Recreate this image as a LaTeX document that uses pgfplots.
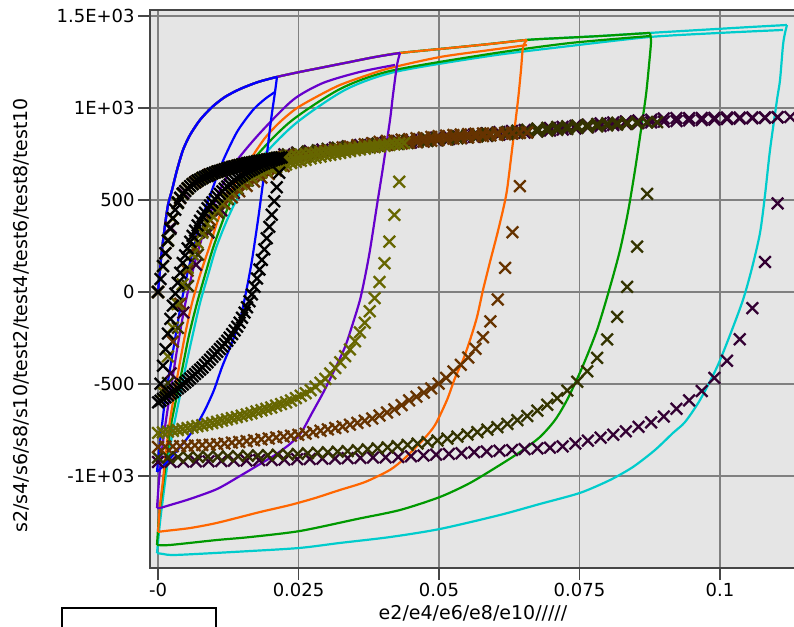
\documentclass[border=0pt]{standalone}
\usepackage{fontspec}
\setmainfont{DejaVu Sans}
\usepackage{pgfplots}
\pgfplotsset{compat=1.18}

\definecolor{cblue}{RGB}{0,0,255}
\definecolor{cpurple}{RGB}{102,0,204}
\definecolor{corange}{RGB}{255,102,0}
\definecolor{cgreen}{RGB}{0,153,0}
\definecolor{ccyan}{RGB}{0,204,204}
\definecolor{solive}{RGB}{102,102,0}
\definecolor{sbrown}{RGB}{102,51,0}
\definecolor{sdolive}{RGB}{51,51,0}
\definecolor{sdpurple}{RGB}{51,0,51}
\definecolor{bggray}{RGB}{229,229,229}
\definecolor{gridgray}{RGB}{128,128,128}
\definecolor{framegray}{RGB}{70,70,70}

\pgfplotsset{
  tline/.style={line width=1.1pt, no markers, smooth, tension=0.45},
  scross/.style={only marks, mark=x, mark size=4.1pt, mark options={line width=1.15pt}},
}

\begin{document}
\begin{tikzpicture}
\begin{axis}[
    width=322.5pt, height=279pt, scale only axis,
    xmin=-0.001423, xmax=0.113345,
    ymin=-1500, ymax=1532.6,
    axis background/.style={fill=bggray},
    axis line style={framegray, line width=0.8pt},
    grid=major,
    major grid style={gridgray, line width=0.75pt},
    tick align=outside, tick pos=left,
    major tick length=6pt,
    tick style={framegray, line width=0.8pt},
    scaled ticks=false,
    xtick={0,0.025,0.05,0.075,0.1},
    xticklabels={-0,0.025,0.05,0.075,0.1},
    ytick={-1000,-500,0,500,1000,1500},
    yticklabels={-1E+03,-500,0,500,1E+03,1.5E+03},
    tick label style={font=\fontsize{9}{11}\selectfont, inner sep=1.5pt},
    label style={font=\fontsize{9.5}{11}\selectfont},
    xlabel={e2/e4/e6/e8/e10/////},
    ylabel={s2/s4/s6/s8/s10/test2/test4/test6/test8/test10},
    xlabel style={at={(axis description cs:0.5008,-0.0806)}, anchor=center},
    ylabel style={at={(axis description cs:-0.2,0.453)}, anchor=center},
]

% ---- s10 (crosses)
\addplot[scross, color=sdpurple] coordinates {
(0,0) (0.00225,350) (0.0045,537) (0.00675,599) (0.009,635) (0.01125,659) (0.0135,681) (0.01575,698) (0.018,712) (0.02025,723) (0.0225,734) (0.02475,744) (0.027,752) (0.02925,760) (0.0315,770) (0.03375,778) (0.036,785) (0.03825,792) (0.0405,799) (0.04275,806) (0.045,812) (0.04725,818) (0.0495,825) (0.05175,831) (0.054,837) (0.05625,843) (0.0585,849) (0.06075,855) (0.063,861) (0.06525,866) (0.0675,872) (0.06975,877) (0.072,883) (0.07425,889) (0.0765,895) (0.07875,902) (0.081,907) (0.08325,913) (0.0855,918) (0.08775,922) (0.09,926) (0.09225,929) (0.0945,932) (0.09675,935) (0.099,937) (0.10125,940) (0.1035,942) (0.10575,944) (0.108,946) (0.11025,949) (0.1125,951)
(0.11025,481) (0.108,163) (0.10575,-88) (0.1035,-257) (0.10125,-374) (0.099,-467) (0.09675,-538) (0.0945,-589) (0.09225,-635) (0.09,-677) (0.08775,-709) (0.0855,-733) (0.08325,-757) (0.081,-776) (0.07875,-792) (0.0765,-808) (0.07425,-824) (0.072,-839) (0.06975,-846) (0.0675,-850) (0.06525,-854) (0.063,-859) (0.06075,-863) (0.0585,-867) (0.05625,-871) (0.054,-876) (0.05175,-880) (0.0495,-884) (0.04725,-889) (0.045,-893) (0.04275,-897) (0.0405,-899) (0.03825,-900) (0.036,-902) (0.03375,-903) (0.0315,-905) (0.02925,-906) (0.027,-908) (0.02475,-909) (0.0225,-911) (0.02025,-913) (0.018,-914) (0.01575,-916) (0.0135,-917) (0.01125,-919) (0.009,-920) (0.00675,-921) (0.0045,-922) (0.00225,-923) (0,-924)
(0.00225,-442) (0.0045,-112) (0.00675,148) (0.009,323) (0.01125,444) (0.0135,539) (0.01575,610) (0.018,660) (0.02025,705) (0.0225,748) (0.02475,758) (0.027,766) (0.02925,774) (0.0315,784) (0.03375,792) (0.036,799) (0.03825,806) (0.0405,813) (0.04275,820) (0.045,826) (0.04725,832) (0.0495,839) (0.05175,845) (0.054,851) (0.05625,857) (0.0585,863) (0.06075,869) (0.063,875) (0.06525,880) (0.0675,886) (0.06975,891) (0.072,897) (0.07425,903) (0.0765,909) (0.07875,916) (0.081,921) (0.08325,927) (0.0855,932) (0.08775,936) (0.09,943) (0.09225,945) (0.0945,945) (0.09675,946) (0.099,946) (0.10125,948) (0.1035,948) (0.10575,949) (0.108,949) (0.11025,950)
};

% ---- s8 (crosses)
\addplot[scross, color=sdolive] coordinates {
(0,0) (0.00178,282) (0.00355,488) (0.00533,564) (0.0071,606) (0.00888,633) (0.01066,655) (0.01243,672) (0.01421,686) (0.01598,700) (0.01776,711) (0.01954,720) (0.02131,728) (0.02309,736) (0.02486,744) (0.02664,751) (0.02842,758) (0.03019,766) (0.03197,772) (0.03374,778) (0.03552,784) (0.0373,789) (0.03907,795) (0.04085,800) (0.04262,805) (0.0444,810) (0.04618,815) (0.04795,820) (0.04973,825) (0.0515,829) (0.05328,835) (0.05506,840) (0.05683,845) (0.05861,849) (0.06038,854) (0.06216,858) (0.06394,863) (0.06571,867) (0.06749,872) (0.06926,876) (0.07104,881) (0.07282,886) (0.07459,891) (0.07637,895) (0.07814,900) (0.07992,905) (0.0817,909) (0.08347,913) (0.08525,917) (0.08702,921) (0.0888,923)
(0.08702,533) (0.08525,246) (0.08347,28) (0.0817,-135) (0.07992,-258) (0.07814,-358) (0.07637,-431) (0.07459,-488) (0.07282,-536) (0.07104,-577) (0.06926,-613) (0.06749,-645) (0.06571,-674) (0.06394,-697) (0.06216,-717) (0.06038,-735) (0.05861,-748) (0.05683,-762) (0.05506,-775) (0.05328,-786) (0.0515,-797) (0.04973,-807) (0.04795,-816) (0.04618,-824) (0.0444,-831) (0.04262,-838) (0.04085,-845) (0.03907,-850) (0.0373,-855) (0.03552,-860) (0.03374,-865) (0.03197,-868) (0.03019,-871) (0.02842,-874) (0.02664,-877) (0.02486,-880) (0.02309,-883) (0.02131,-885) (0.01954,-887) (0.01776,-888) (0.01598,-890) (0.01421,-892) (0.01243,-893) (0.01066,-894) (0.00888,-895) (0.0071,-896) (0.00533,-897) (0.00355,-898) (0.00178,-899) (0,-900)
(0.00178,-495) (0.00355,-195) (0.00533,33) (0.0071,203) (0.00888,330) (0.01066,431) (0.01243,504) (0.01421,560) (0.01598,606) (0.01776,645) (0.01954,679) (0.02131,710) (0.02309,748) (0.02486,756) (0.02664,763) (0.02842,770) (0.03019,778) (0.03197,784) (0.03374,790) (0.03552,796) (0.0373,801) (0.03907,807) (0.04085,812) (0.04262,817) (0.0444,822) (0.04618,827) (0.04795,832) (0.04973,837) (0.0515,841) (0.05328,847) (0.05506,852) (0.05683,857) (0.05861,861) (0.06038,866) (0.06216,870) (0.06394,877) (0.06571,882) (0.06749,888) (0.06926,892) (0.07104,897) (0.07282,901) (0.07459,905) (0.07637,909) (0.07814,913) (0.07992,917) (0.0817,920) (0.08347,921) (0.08525,923) (0.08702,924)
};

% ---- s6 (crosses)
\addplot[scross, color=sbrown] coordinates {
(0,0) (0.00131,210) (0.00263,399) (0.00394,510) (0.00526,562) (0.00657,595) (0.00788,619) (0.0092,638) (0.01051,653) (0.01183,666) (0.01314,678) (0.01445,689) (0.01577,698) (0.01708,707) (0.0184,714) (0.01971,721) (0.02102,727) (0.02234,733) (0.02365,739) (0.02497,745) (0.02628,750) (0.0276,756) (0.02891,761) (0.03022,766) (0.03154,770) (0.03285,774) (0.03416,779) (0.03548,784) (0.03679,788) (0.03811,792) (0.03942,796) (0.04073,800) (0.04205,804) (0.04336,807) (0.04468,811) (0.04599,815) (0.0473,818) (0.04862,822) (0.04993,826) (0.05125,829) (0.05256,833) (0.05387,837) (0.05519,840) (0.0565,844) (0.05782,847) (0.05913,851) (0.06044,854) (0.06176,857) (0.06307,861) (0.06439,864) (0.0657,867)
(0.06439,575) (0.06307,325) (0.06176,131) (0.06044,-41) (0.05913,-160) (0.05782,-246) (0.0565,-309) (0.05519,-356) (0.05387,-396) (0.05256,-432) (0.05125,-467) (0.04993,-498) (0.04862,-524) (0.0473,-547) (0.04599,-569) (0.04468,-589) (0.04336,-615) (0.04205,-638) (0.04073,-655) (0.03942,-671) (0.03811,-688) (0.03679,-700) (0.03548,-711) (0.03416,-721) (0.03285,-732) (0.03154,-739) (0.03022,-747) (0.02891,-754) (0.0276,-762) (0.02628,-770) (0.02497,-776) (0.02365,-781) (0.02234,-786) (0.02102,-791) (0.01971,-796) (0.0184,-801) (0.01708,-806) (0.01577,-811) (0.01445,-815) (0.01314,-819) (0.01183,-823) (0.01051,-827) (0.0092,-830) (0.00788,-832) (0.00657,-834) (0.00526,-836) (0.00394,-838) (0.00263,-839) (0.00131,-841) (0,-842)
(0.00131,-535) (0.00263,-270) (0.00394,-64) (0.00526,116) (0.00657,240) (0.00788,329) (0.0092,393) (0.01051,441) (0.01183,479) (0.01314,514) (0.01445,547) (0.01577,576) (0.01708,600) (0.0184,621) (0.01971,641) (0.02102,660) (0.02234,684) (0.02365,705) (0.02497,720) (0.02628,734) (0.0276,750) (0.02891,760) (0.03022,769) (0.03154,777) (0.03285,786) (0.03416,791) (0.03548,798) (0.03679,803) (0.03811,809) (0.03942,816) (0.04073,821) (0.04205,824) (0.04336,828) (0.04468,831) (0.04599,835) (0.0473,839) (0.04862,843) (0.04993,847) (0.05125,850) (0.05256,853) (0.05387,856) (0.05519,858) (0.0565,860) (0.05782,861) (0.05913,862) (0.06044,864) (0.06176,865) (0.06307,865) (0.06439,866)
};

% ---- s4 (crosses)
\addplot[scross, color=solive] coordinates {
(0,0) (0.000876,140) (0.00175,278) (0.00263,399) (0.0035,483) (0.00438,532) (0.00526,562) (0.00613,586) (0.00701,604) (0.00788,619) (0.00876,631) (0.00964,643) (0.01051,653) (0.01139,662) (0.01226,670) (0.01314,678) (0.01402,685) (0.01489,692) (0.01577,698) (0.01664,704) (0.01752,709) (0.0184,714) (0.01927,718) (0.02015,723) (0.02102,727) (0.0219,731) (0.02278,735) (0.02365,739) (0.02453,743) (0.0254,747) (0.02628,750) (0.02716,754) (0.02803,757) (0.02891,761) (0.02978,764) (0.03066,767) (0.03154,770) (0.03241,773) (0.03329,776) (0.03416,779) (0.03504,782) (0.03592,785) (0.03679,788) (0.03767,791) (0.03854,794) (0.03942,796) (0.0403,799) (0.04117,801) (0.04205,804) (0.04292,806) (0.0438,809)
(0.04292,599) (0.04205,419) (0.04117,274) (0.0403,156) (0.03942,54) (0.03854,-33) (0.03767,-105) (0.03679,-167) (0.03592,-219) (0.03504,-268) (0.03416,-312) (0.03329,-349) (0.03241,-382) (0.03154,-413) (0.03066,-443) (0.02978,-472) (0.02891,-493) (0.02803,-515) (0.02716,-534) (0.02628,-550) (0.0254,-564) (0.02453,-577) (0.02365,-590) (0.02278,-600) (0.0219,-609) (0.02102,-618) (0.02015,-628) (0.01927,-635) (0.0184,-643) (0.01752,-650) (0.01664,-659) (0.01577,-666) (0.01489,-673) (0.01402,-680) (0.01314,-686) (0.01226,-693) (0.01139,-699) (0.01051,-706) (0.00964,-712) (0.00876,-718) (0.00788,-724) (0.00701,-729) (0.00613,-735) (0.00526,-740) (0.00438,-745) (0.0035,-750) (0.00263,-755) (0.00175,-759) (0.000876,-763) (0,-766)
(0.000876,-543) (0.00175,-350) (0.00263,-193) (0.0035,-66) (0.00438,41) (0.00526,131) (0.00613,205) (0.00701,268) (0.00788,322) (0.00876,371) (0.00964,414) (0.01051,450) (0.01139,482) (0.01226,512) (0.01314,540) (0.01402,567) (0.01489,586) (0.01577,606) (0.01664,623) (0.01752,637) (0.0184,649) (0.01927,660) (0.02015,671) (0.02102,679) (0.0219,686) (0.02278,693) (0.02365,701) (0.02453,707) (0.0254,713) (0.02628,718) (0.02716,726) (0.02803,731) (0.02891,736) (0.02978,742) (0.03066,746) (0.03154,751) (0.03241,756) (0.03329,761) (0.03416,766) (0.03504,771) (0.03592,775) (0.03679,779) (0.03767,784) (0.03854,787) (0.03942,791) (0.0403,795) (0.04117,799) (0.04205,803) (0.04292,806)
};

% ---- s2 (crosses)
\addplot[scross, color=black] coordinates {
(0,0) (0.00044,70) (0.00088,141) (0.00132,211) (0.00176,279) (0.0022,343) (0.00264,401) (0.00308,447) (0.00352,484) (0.00396,512) (0.0044,534) (0.00484,549) (0.00528,563) (0.00572,575) (0.00616,586) (0.0066,596) (0.00704,605) (0.00748,612) (0.00792,620) (0.00836,626) (0.0088,632) (0.00924,638) (0.00968,644) (0.01012,649) (0.01056,654) (0.011,658) (0.01144,662) (0.01188,667) (0.01232,671) (0.01276,675) (0.0132,679) (0.01364,682) (0.01408,686) (0.01452,689) (0.01496,693) (0.0154,696) (0.01584,699) (0.01628,702) (0.01672,704) (0.01716,707) (0.0176,710) (0.01804,712) (0.01848,714) (0.01892,717) (0.01936,719) (0.0198,721) (0.02024,723) (0.02068,725) (0.02112,728) (0.02156,730) (0.022,732)
(0.02156,648) (0.02112,569) (0.02068,493) (0.02024,420) (0.0198,354) (0.01936,292) (0.01892,232) (0.01848,174) (0.01804,122) (0.0176,73) (0.01716,28) (0.01672,-13) (0.01628,-50) (0.01584,-83) (0.0154,-112) (0.01496,-140) (0.01452,-166) (0.01408,-189) (0.01364,-209) (0.0132,-229) (0.01276,-248) (0.01232,-265) (0.01188,-282) (0.01144,-296) (0.011,-310) (0.01056,-325) (0.01012,-339) (0.00968,-353) (0.00924,-368) (0.0088,-382) (0.00836,-396) (0.00792,-410) (0.00748,-422) (0.00704,-434) (0.0066,-446) (0.00616,-458) (0.00572,-470) (0.00528,-481) (0.00484,-492) (0.0044,-503) (0.00396,-514) (0.00352,-524) (0.00308,-534) (0.00264,-544) (0.0022,-553) (0.00176,-562) (0.00132,-572) (0.00088,-581) (0.00044,-591) (0,-600)
(0.00044,-499) (0.00088,-401) (0.00132,-311) (0.00176,-226) (0.0022,-146) (0.00264,-74) (0.00308,-9) (0.00352,50) (0.00396,105) (0.0044,158) (0.00484,199) (0.00528,237) (0.00572,273) (0.00616,305) (0.0066,334) (0.00704,362) (0.00748,387) (0.00792,411) (0.00836,431) (0.0088,455) (0.00924,470) (0.00968,487) (0.01012,504) (0.01056,518) (0.011,533) (0.01144,547) (0.01188,561) (0.01232,573) (0.01276,584) (0.0132,595) (0.01364,606) (0.01408,617) (0.01452,626) (0.01496,634) (0.0154,643) (0.01584,652) (0.01628,659) (0.01672,666) (0.01716,673) (0.0176,680) (0.01804,687) (0.01848,693) (0.01892,698) (0.01936,704) (0.0198,709) (0.02024,714) (0.02068,719) (0.02112,723) (0.02156,728)
};

% ---- test10 (cyan)
\addplot[tline, color=ccyan] coordinates {(0,0) (0.0006,200) (0.00125,364) (0.00178,473) (0.00249,554) (0.00338,663) (0.00445,772) (0.00569,853) (0.00747,935) (0.00961,1005) (0.01192,1060) (0.01459,1103) (0.01779,1141) (0.02117,1169) (0.02527,1196) (0.02972,1223) (0.03416,1250) (0.03861,1277) (0.04306,1299) (0.05196,1326) (0.05907,1348) (0.06566,1370) (0.07153,1380) (0.07865,1391) (0.08754,1408) (0.09644,1424) (0.10534,1440) (0.11192,1451)};
\addplot[tline, color=ccyan] coordinates {(0.11192,1451) (0.11157,1408) (0.11121,1342) (0.11068,1152) (0.11014,1044) (0.1089,772) (0.10801,527) (0.10712,321) (0.10569,130) (0.10409,-43) (0.10178,-234) (0.09947,-408) (0.09644,-587) (0.09377,-707) (0.09164,-766) (0.08843,-859) (0.08452,-951) (0.08043,-1022) (0.07509,-1092) (0.06797,-1152) (0.06085,-1212) (0.05018,-1288) (0.04128,-1332) (0.03238,-1364) (0.02527,-1391) (0.01637,-1408) (0.00338,-1429) (0.00089,-1424) (-0.00018,-1419)};
\addplot[tline, color=ccyan] coordinates {(-0.00018,-1419) (0.00036,-1250) (0.00107,-1076) (0.00178,-913) (0.00267,-750) (0.00374,-587) (0.0048,-424) (0.00605,-250) (0.00747,-60) (0.0089,92) (0.01032,239) (0.01228,391) (0.01423,516) (0.01779,707) (0.02438,913) (0.03327,1098) (0.04217,1196) (0.05907,1283) (0.07331,1337) (0.08754,1386) (0.1,1408) (0.11121,1424)};

% ---- test8 (green)
\addplot[tline, color=cgreen] coordinates {(0,0) (0.0006,200) (0.00125,364) (0.00178,473) (0.00249,554) (0.00338,663) (0.00445,772) (0.00569,853) (0.00747,935) (0.00961,1005) (0.01192,1060) (0.01459,1103) (0.01779,1141) (0.02117,1169) (0.02527,1196) (0.02972,1223) (0.03416,1250) (0.03861,1277) (0.04306,1299) (0.05196,1326) (0.05907,1348) (0.06566,1370) (0.07153,1380) (0.07865,1391) (0.08754,1408)};
\addplot[tline, color=cgreen] coordinates {(0.08754,1408) (0.08772,1359) (0.08737,1234) (0.08683,1071) (0.08594,880) (0.08488,663) (0.08363,435) (0.08221,228) (0.08043,27) (0.07811,-207) (0.07544,-413) (0.07278,-587) (0.07064,-696) (0.06797,-788) (0.06441,-870) (0.06085,-940) (0.05552,-1038) (0.05018,-1114) (0.04306,-1185) (0.03541,-1234) (0.02527,-1299) (0.01637,-1332) (0.0105,-1348) (0.00214,-1375) (-0.00018,-1375)};
\addplot[tline, color=cgreen] coordinates {(-0.00018,-1375) (0.00018,-1223) (0.00089,-1049) (0.0016,-886) (0.00231,-723) (0.00338,-560) (0.00445,-397) (0.00552,-234) (0.00694,-60) (0.00836,92) (0.00979,239) (0.01157,391) (0.01335,522) (0.0169,717) (0.02349,924) (0.03238,1103) (0.04128,1201) (0.05907,1294) (0.07331,1353) (0.08754,1391)};

% ---- test6 (orange)
\addplot[tline, color=corange] coordinates {(0,0) (0.0006,200) (0.00125,364) (0.00178,473) (0.00249,554) (0.00338,663) (0.00445,772) (0.00569,853) (0.00747,935) (0.00961,1005) (0.01192,1060) (0.01459,1103) (0.01779,1141) (0.02117,1169) (0.02527,1196) (0.02972,1223) (0.03416,1250) (0.03861,1277) (0.04306,1299) (0.05196,1326) (0.05907,1348) (0.06566,1370)};
\addplot[tline, color=corange] coordinates {(0.06566,1370) (0.06495,1332) (0.06459,1207) (0.06406,1044) (0.06299,772) (0.0621,554) (0.06139,446) (0.06032,310) (0.05907,163) (0.05783,11) (0.05676,-136) (0.05552,-261) (0.05427,-370) (0.05285,-467) (0.05142,-587) (0.04929,-723) (0.04715,-804) (0.04395,-902) (0.04128,-967) (0.03683,-1033) (0.03238,-1076) (0.02794,-1120) (0.02349,-1158) (0.01815,-1196) (0.0105,-1255) (0.00569,-1283) (0.00125,-1299) (0,-1304)};
\addplot[tline, color=corange] coordinates {(0,-1304) (0.00036,-1158) (0.00089,-1022) (0.00142,-859) (0.00214,-696) (0.00302,-533) (0.00391,-380) (0.00498,-207) (0.00605,-60) (0.00747,92) (0.00925,255) (0.01068,391) (0.01281,538) (0.01637,717) (0.01904,837) (0.02171,924) (0.02473,1000) (0.02883,1071) (0.03238,1125) (0.03683,1174) (0.04128,1217) (0.05018,1277) (0.05907,1315) (0.06566,1342)};

% ---- test4 (purple)
\addplot[tline, color=cpurple] coordinates {(0,0) (0.0006,200) (0.00125,364) (0.00178,473) (0.00249,554) (0.00338,663) (0.00445,772) (0.00569,853) (0.00747,935) (0.00961,1005) (0.01192,1060) (0.01459,1103) (0.01779,1141) (0.02117,1169) (0.02527,1196) (0.02972,1223) (0.03416,1250) (0.03861,1277) (0.04306,1299)};
\addplot[tline, color=cpurple] coordinates {(0.04306,1299) (0.04253,1234) (0.04181,1071) (0.04128,935) (0.04004,679) (0.03897,473) (0.03772,228) (0.03683,82) (0.03594,-43) (0.0347,-168) (0.03327,-299) (0.03114,-440) (0.02936,-549) (0.0274,-658) (0.02544,-766) (0.02349,-826) (0.02082,-886) (0.01815,-935) (0.01459,-1000) (0.0105,-1071) (0.00569,-1125) (0.00214,-1158) (0.00036,-1174) (-0.00018,-1174)};
\addplot[tline, color=cpurple] coordinates {(-0.00018,-1174) (0.00018,-1022) (0.00071,-859) (0.00142,-696) (0.00231,-522) (0.00338,-315) (0.0048,-71) (0.00658,163) (0.00872,380) (0.01103,554) (0.0137,701) (0.01815,864) (0.02402,1044) (0.02936,1136) (0.03594,1196) (0.04217,1234)};

% ---- test2 (blue)
\addplot[tline, color=cblue] coordinates {(0,0) (0.0006,200) (0.00125,364) (0.00178,473) (0.00249,554) (0.00338,663) (0.00445,772) (0.00569,853) (0.00747,935) (0.00961,1005) (0.01192,1060) (0.01459,1103) (0.01779,1141) (0.02117,1169)};
\addplot[tline, color=cblue] coordinates {(0.02117,1169) (0.02082,1087) (0.02011,935) (0.0194,755) (0.01851,554) (0.01779,391) (0.01673,174) (0.01584,27) (0.01459,-152) (0.01299,-288) (0.01139,-408) (0.00996,-533) (0.00836,-641) (0.00676,-728) (0.00498,-804) (0.00302,-875) (0.00125,-935) (0.00018,-967) (-0.00018,-978)};
\addplot[tline, color=cblue] coordinates {(-0.00018,-978) (0.00018,-859) (0.00071,-723) (0.00125,-587) (0.00196,-451) (0.00285,-288) (0.00391,-98) (0.00516,92) (0.00658,266) (0.00801,418) (0.00961,554) (0.01139,701) (0.01406,870) (0.0169,989) (0.01904,1049) (0.02082,1087)};

\coordinate (lgtl) at (axis description cs:-0.1364,-0.0717);
\coordinate (lgbr) at (axis description cs:0.1023,-0.20);
\coordinate (bbl) at (axis description cs:-0.2326,-0.10573);
\coordinate (btr) at (axis description cs:0.99845,1.01792);
\end{axis}
% legend frame, cut off by the page edge as in the reference
\draw[black, line width=0.8pt, fill=white] (lgtl) rectangle (lgbr);
\pgfresetboundingbox
\path[use as bounding box] (bbl) rectangle (btr);
\end{tikzpicture}
\end{document}
